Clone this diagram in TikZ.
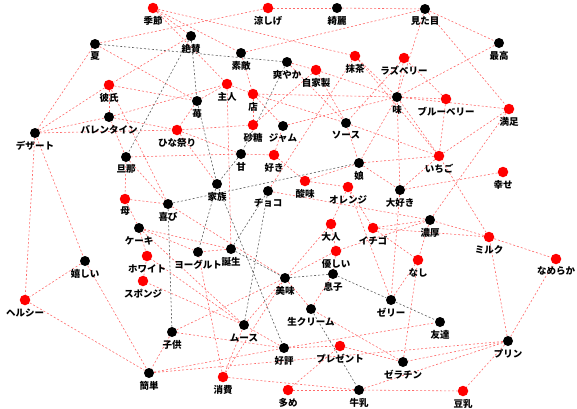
\documentclass[tikz,border=0pt]{standalone}
\usepackage{fontspec}
\newfontfamily\jp{Noto Sans CJK JP}
\pgfdeclarelayer{background}
\pgfsetlayers{background,main}
\tikzset{
  dotR/.style={circle, fill=red, inner sep=0pt, minimum size=10.5pt},
  dotK/.style={circle, fill=black, inner sep=0pt, minimum size=10pt},
  lab/.style={font=\jp\bfseries\fontsize{9.5}{10}\selectfont, inner sep=0pt, text=black},
  redge/.style={draw={rgb,255:red,255;green,105;blue,105}, line width=0.6pt, dash pattern=on 2pt off 2pt},
  gedge/.style={draw={rgb,255:red,90;green,90;blue,90}, line width=0.6pt, dash pattern=on 2pt off 2pt},
}
% dot with its caption underneath
\newcommand\vx[5]{%
  \node[dot#2] (#1) at (#3,#4) {};
  \node[lab] (#1t) at ([yshift=-12.5pt]#1.center) {#5};}
\begin{document}
\begin{tikzpicture}[x=1pt,y=-1pt]
\useasboundingbox (0,0) rectangle (577,408);
\vx{kisetsu}{R}{153}{8}{季節}
\vx{suzushige}{R}{268}{8}{涼しげ}
\vx{kirei}{K}{337}{8}{綺麗}
\vx{mitame}{K}{425}{9}{見た目}
\vx{natsu}{K}{95}{44}{夏}
\vx{zessan}{K}{191}{36}{絶賛}
\vx{suteki}{K}{241}{53}{素敵}
\vx{sawayaka}{K}{287}{62}{爽やか}
\vx{jikasei}{R}{316}{70}{自家製}
\vx{matcha}{R}{355}{56}{抹茶}
\vx{rasp}{R}{404}{58}{ラズベリー}
\vx{saikou}{K}{499}{43}{最高}
\vx{kareshi}{R}{109}{85}{彼氏}
\vx{shujin}{R}{227}{84}{主人}
\vx{mise}{R}{253}{94}{店}
\vx{ichigoA}{K}{197}{101}{苺}
\vx{aji}{K}{397}{97}{味}
\vx{blue}{R}{446}{99}{ブルーベリー}
\vx{manzoku}{R}{509}{109}{満足}
\vx{valen}{K}{109}{117}{バレンタイン}
\vx{dessert}{K}{35}{133}{デザート}
\vx{hina}{R}{177}{130}{ひな祭り}
\vx{satou}{R}{253}{125}{砂糖}
\vx{jam}{K}{283}{126}{ジャム}
\vx{sauce}{K}{346}{123}{ソース}
\vx{danna}{K}{126}{157}{旦那}
\vx{ama}{K}{241}{154}{甘}
\vx{suki}{R}{274}{155}{好き}
\vx{ichigoB}{R}{439}{156}{いちご}
\vx{shiawase}{R}{503}{172}{幸せ}
\vx{musume}{K}{359}{163}{娘}
\vx{kazoku}{K}{217}{184}{家族}
\vx{choco}{K}{268}{191}{チョコ}
\vx{sanmi}{R}{305}{181}{酸味}
\vx{orange}{R}{348}{187}{オレンジ}
\vx{daisuki}{K}{400}{190}{大好き}
\vx{haha}{R}{125}{199}{母}
\vx{yorokobi}{K}{168}{204}{喜び}
\vx{noukou}{K}{430}{220}{濃厚}
\vx{cake}{K}{139}{228}{ケーキ}
\vx{otona}{R}{331}{224}{大人}
\vx{ichigoC}{R}{373}{228}{イチゴ}
\vx{milk}{R}{489}{237}{ミルク}
\vx{ureshii}{K}{85}{261}{嬉しい}
\vx{white}{R}{147}{256}{ホワイト}
\vx{yogurt}{K}{198}{252}{ヨーグルト}
\vx{tanjou}{K}{231}{249}{誕生}
\vx{yasashii}{R}{336}{251}{優しい}
\vx{nashi}{R}{418}{260}{なし}
\vx{nameraka}{R}{556}{259}{なめらか}
\vx{healthy}{R}{25}{300}{ヘルシー}
\vx{sponge}{R}{143}{281}{スポンジ}
\vx{oishii}{K}{285}{278}{美味}
\vx{musuko}{K}{333}{274}{息子}
\vx{jelly}{K}{391}{300}{ゼリー}
\vx{tomo}{K}{440}{322}{友達}
\vx{cream}{K}{311}{309}{生クリーム}
\vx{kodomo}{K}{172}{332}{子供}
\vx{mousse}{K}{244}{325}{ムース}
\vx{kouhyou}{K}{284}{348}{好評}
\vx{present}{R}{340}{346}{プレゼント}
\vx{pudding}{K}{508}{341}{プリン}
\vx{gelatin}{K}{403}{362}{ゼラチン}
\vx{kantan}{K}{149}{373}{簡単}
\vx{shouhi}{R}{223}{377}{消費}
\vx{oome}{R}{288}{390}{多め}
\vx{gyunyu}{K}{359}{390}{牛乳}
\vx{tonyu}{R}{463}{391}{豆乳}
\begin{pgfonlayer}{background}
\foreach \a/\b in {
  kisetsu/zessan, kisetsu/suteki, kisetsu/matcha, kisetsu/shujin,
  natsu/suzushige, natsu/dessert, natsu/ichigoA,
  suzushige/kirei, kirei/mitame, suteki/mitame, mitame/saikou, mitame/manzoku,
  mitame/aji, saikou/aji, aji/blue, aji/manzoku,
  zessan/kareshi, kareshi/valen, kareshi/dessert, valen/dessert, valen/shujin,
  dessert/hina, dessert/ureshii, dessert/healthy,
  danna/valen, danna/haha, danna/yorokobi, danna/ama, haha/cake, haha/yorokobi,
  cake/white, cake/yogurt,
  ureshii/healthy, ureshii/kantan, healthy/kantan, kodomo/kantan, kodomo/oishii,
  kodomo/kouhyou, kantan/kouhyou, kantan/pudding, kouhyou/tomo,
  shouhi/gyunyu, oome/gyunyu, gyunyu/tonyu, gyunyu/pudding, pudding/tonyu,
  pudding/milk, pudding/nameraka, pudding/gelatin,
  milk/nameraka, milk/ichigoB, milk/noukou, noukou/manzoku, shiawase/daisuki,
  daisuki/aji, daisuki/jelly, jelly/orange, jelly/nashi,
  gelatin/nashi, gelatin/cream, shouhi/yogurt, shouhi/oishii, mousse/oishii,
  mousse/sponge, mousse/white, mousse/shouhi, cream/musuko,
  noukou/choco, noukou/yasashii, noukou/nashi, matcha/choco, matcha/ichigoB,
  suteki/mise, ichigoA/shujin, ichigoA/hina, shujin/mise, mise/satou, mise/jam,
  mise/sauce, jikasei/sauce, jikasei/satou, sawayaka/jikasei, rasp/aji,
  rasp/sauce, sauce/ichigoB, sauce/musume, suki/ama, suki/sanmi, suki/jam,
  sanmi/orange, sanmi/musume, orange/otona, orange/ichigoC, otona/yasashii,
  yasashii/musuko, yasashii/oishii, ichigoC/nashi, otona/oishii, tanjou/yogurt,
  hina/kazoku, hina/satou, cake/tanjou, sponge/white,
  kouhyou/mousse, kouhyou/present, present/gelatin, present/oome,
  cream/oishii, ichigoB/daisuki, ichigoC/noukou, musume/daisuki,
  musume/ichigoB, blue/ichigoB, blue/rasp, ichigoC/milk,
  kareshi/ichigoA, kareshi/yorokobi, valen/hina, hina/ama, shujin/tanjou,
  jikasei/aji, mise/aji, sawayaka/sauce, matcha/aji, aji/ichigoB, aji/musume,
  ichigoB/manzoku, jam/aji, yorokobi/oishii, cake/mousse}
  \draw[redge] (\a) -- (\b);
\foreach \a/\b in {
  natsu/sawayaka, zessan/danna, zessan/ichigoA, sawayaka/ama,
  yorokobi/kodomo, yorokobi/musume, kazoku/kouhyou, choco/mousse,
  oishii/musuko, musuko/jelly, jelly/tomo, cream/gyunyu, ichigoA/kazoku,
  ama/kazoku, tanjou/choco, kazoku/yogurt, tanjou/oishii}
  \draw[gedge] (\a) -- (\b);
\end{pgfonlayer}
\end{tikzpicture}
\end{document}
